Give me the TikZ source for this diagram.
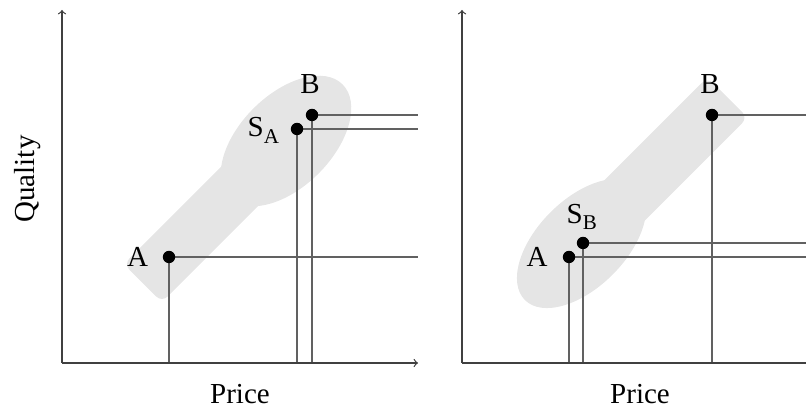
\documentclass[tikz,border=0pt]{standalone}
\usepackage{fontspec}
\setmainfont{Liberation Serif}
\begin{document}
\begin{tikzpicture}[x=0.5pt,y=0.5pt,
  blob/.style={fill=black!10},
  guide/.style={draw=black!62, line width=0.6pt},
  axis/.style={draw=black!75, line width=0.6pt, ->},
  dot/.style={circle, fill=black, inner sep=0pt, minimum size=6.2pt},
  lbl/.style={font=\fontsize{14.5}{17}\selectfont, inner sep=0pt, anchor=base}]
\useasboundingbox (0,0) rectangle (806,410);
\clip (0,0) rectangle (806,410);
% ---------- left panel ----------
\fill[blob, rotate around={45:(286,269)}] (286,269) ellipse [x radius=80, y radius=46];
\begin{scope}[shift={(169,153)}, rotate=45]
  \fill[blob, rounded corners=4pt] (-37,-27) rectangle (165,27);
\end{scope}
\coordinate (O1) at (62,47);
\coordinate (Y1) at (62,400);
\coordinate (X1) at (418,47);
\coordinate (pA1) at (169,153);
\coordinate (pS1) at (297,281);
\coordinate (pB1) at (312,295);
\foreach \p in {pA1,pS1,pB1}{
  \draw[guide] (\p) -- (\p |- O1);
  \draw[guide] (\p) -- (\p -| X1);
}
\draw[axis] (O1) -- (Y1);
\draw[axis] (O1) -- (X1);
\node[dot] (dA1) at (pA1) {};
\node[dot] (dS1) at (pS1) {};
\node[dot] (dB1) at (pB1) {};
\node[lbl] (lA1) at (137.5,143) {A};
\node[lbl] (lS1) at (263.3,273.3) {S\raisebox{-3.2pt}{\fontsize{10.5}{12}\selectfont A}};
\node[lbl] (lB1) at (310,316.7) {B};
\node[lbl] (px1) at (240,6) {Price};
\node[lbl, anchor=center, rotate=90] (qy) at (27.5,231) {Quality};
% ---------- right panel ----------
\fill[blob, rotate around={45:(581.5,166.5)}] (581.5,166.5) ellipse [x radius=80, y radius=44];
\begin{scope}[shift={(581.5,166.5)}, rotate=45]
  \fill[blob, rounded corners=4pt] (0,-28.5) rectangle (206.6,28.5);
\end{scope}
\coordinate (O2) at (462,47);
\coordinate (Y2) at (462,400);
\coordinate (X2) at (818,47);
\coordinate (pA2) at (569,153);
\coordinate (pS2) at (583,167);
\coordinate (pB2) at (712,295);
\foreach \p in {pA2,pS2,pB2}{
  \draw[guide] (\p) -- (\p |- O2);
  \draw[guide] (\p) -- (\p -| X2);
}
\draw[axis] (O2) -- (Y2);
\draw[axis] (O2) -- (X2);
\node[dot] (dA2) at (pA2) {};
\node[dot] (dS2) at (pS2) {};
\node[dot] (dB2) at (pB2) {};
\node[lbl] (lA2) at (537,143) {A};
\node[lbl] (lS2) at (581.7,186.7) {S\raisebox{-3.2pt}{\fontsize{10.5}{12}\selectfont B}};
\node[lbl] (lB2) at (710,316.7) {B};
\node[lbl] (px2) at (640,6) {Price};
\end{tikzpicture}
\end{document}
